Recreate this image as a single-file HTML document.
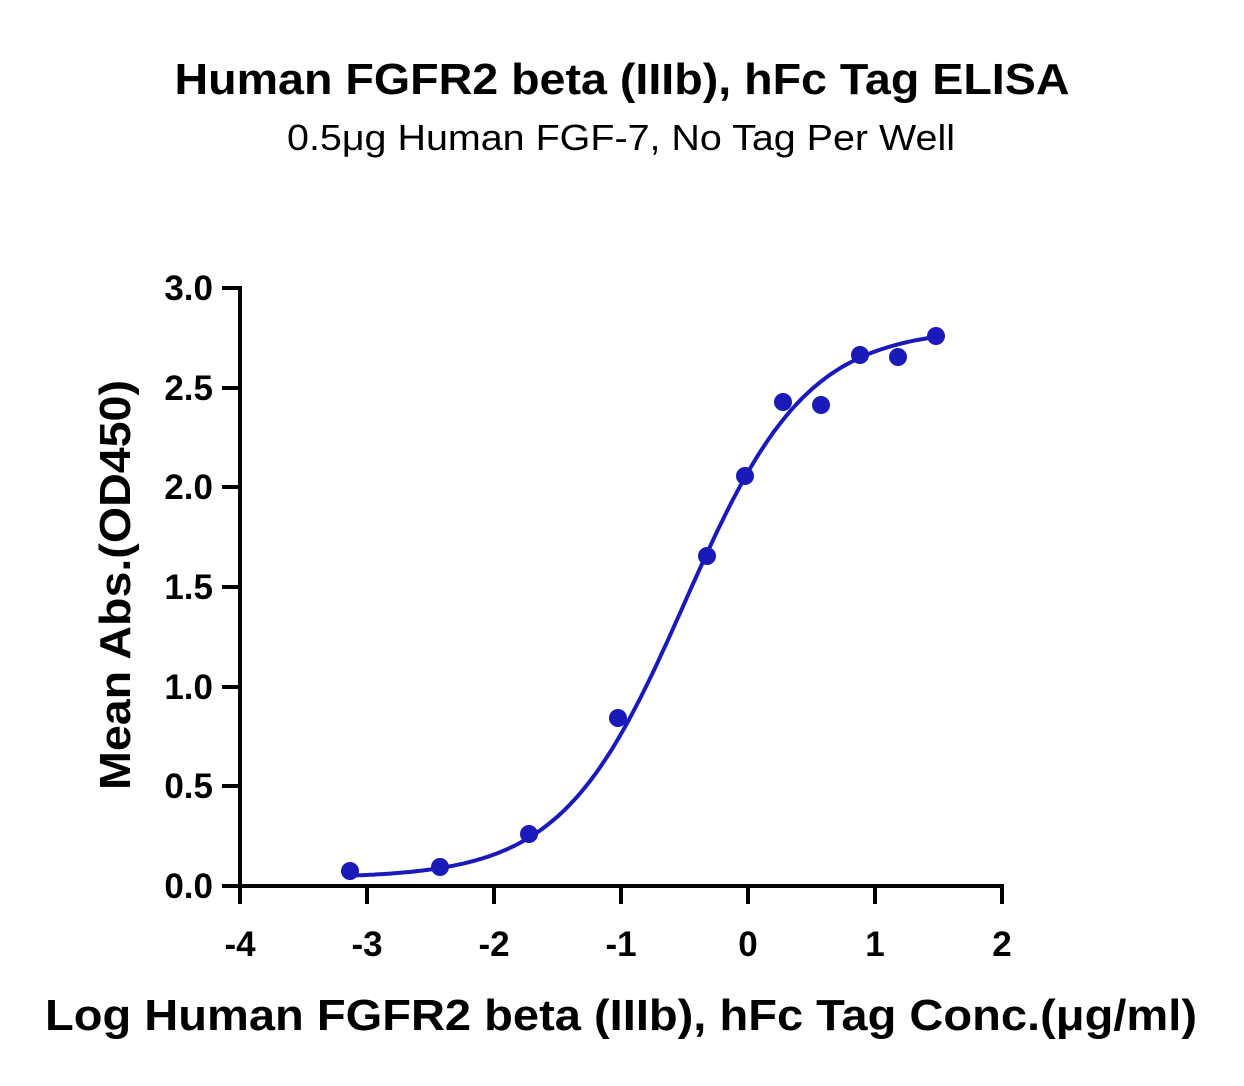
<!DOCTYPE html>
<html><head><meta charset="utf-8"><style>
html,body{margin:0;padding:0;background:#fff;}
svg{display:block;font-family:"Liberation Sans",sans-serif;}
</style></head><body>
<svg width="1244" height="1086" viewBox="0 0 1244 1086">
<text x="622" y="94" text-anchor="middle" font-size="44" font-weight="bold" textLength="895" lengthAdjust="spacingAndGlyphs">Human FGFR2 beta (IIIb), hFc Tag ELISA</text>
<text x="621" y="150" text-anchor="middle" font-size="36" textLength="668" lengthAdjust="spacingAndGlyphs">0.5μg Human FGF-7, No Tag Per Well</text>
<g stroke="#000" stroke-width="4" fill="none">
<line x1="240" y1="286" x2="240" y2="888"/>
<line x1="238" y1="886" x2="1004" y2="886"/>
<line x1="222" y1="288" x2="240" y2="288"/>
<line x1="222" y1="388" x2="240" y2="388"/>
<line x1="222" y1="487" x2="240" y2="487"/>
<line x1="222" y1="587" x2="240" y2="587"/>
<line x1="222" y1="687" x2="240" y2="687"/>
<line x1="222" y1="786" x2="240" y2="786"/>
<line x1="222" y1="886" x2="240" y2="886"/>
<line x1="240" y1="886" x2="240" y2="904"/>
<line x1="367" y1="886" x2="367" y2="904"/>
<line x1="494" y1="886" x2="494" y2="904"/>
<line x1="621" y1="886" x2="621" y2="904"/>
<line x1="748" y1="886" x2="748" y2="904"/>
<line x1="875" y1="886" x2="875" y2="904"/>
<line x1="1002" y1="886" x2="1002" y2="904"/>
</g>
<g font-size="35" font-weight="bold" text-anchor="end">
<text x="213" y="300">3.0</text><text x="213" y="400">2.5</text><text x="213" y="499">2.0</text>
<text x="213" y="599">1.5</text><text x="213" y="699">1.0</text><text x="213" y="798">0.5</text><text x="213" y="898">0.0</text>
</g>
<g font-size="35" font-weight="bold" text-anchor="middle">
<text x="240" y="956">-4</text><text x="367" y="956">-3</text><text x="494" y="956">-2</text>
<text x="621" y="956">-1</text><text x="748" y="956">0</text><text x="875" y="956">1</text><text x="1002" y="956">2</text>
</g>
<text x="621" y="1030" text-anchor="middle" font-size="44" font-weight="bold" textLength="1152" lengthAdjust="spacingAndGlyphs">Log Human FGFR2 beta (IIIb), hFc Tag Conc.(μg/ml)</text>
<text transform="translate(130,585) rotate(-90)" text-anchor="middle" font-size="44" font-weight="bold" textLength="410" lengthAdjust="spacingAndGlyphs">Mean Abs.(OD450)</text>
<path id="c" fill="none" stroke="#1a1ab8" stroke-width="4"/>
<g fill="#1a1ab8">
<circle cx="350" cy="871" r="9"/><circle cx="440" cy="867" r="9"/><circle cx="529" cy="834" r="9"/>
<circle cx="618" cy="718" r="9"/><circle cx="707" cy="556" r="9"/><circle cx="745" cy="476" r="9"/>
<circle cx="783" cy="402" r="9"/><circle cx="821" cy="405" r="9"/><circle cx="860" cy="355" r="9"/>
<circle cx="898" cy="357" r="9"/><circle cx="936" cy="336" r="9"/>
</g>
<script>
var d="";for(var i=0;i<=200;i++){var x=-3.13+i*(4.6/200);var y=0.04+2.76/(1+Math.pow(10,(-0.5-x)*0.9));
var px=748+x*127,py=886-y*199.3;d+=(i?"L":"M")+px.toFixed(1)+","+py.toFixed(1);}
document.getElementById("c").setAttribute("d",d);
</script>
</svg>
</body></html>
